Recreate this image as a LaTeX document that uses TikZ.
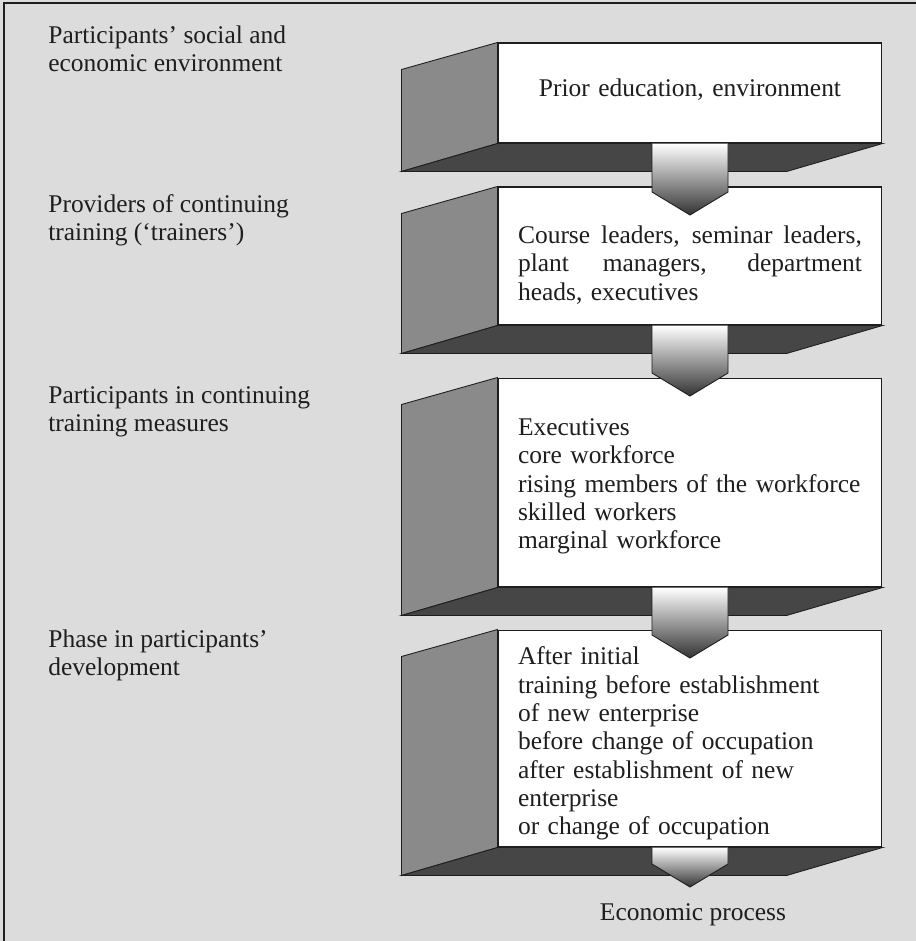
\documentclass[tikz,border=0pt]{standalone}
\usepackage{fontspec}
\setmainfont{Liberation Serif}
\usepackage{tikz}
\usetikzlibrary{calc, positioning}
\definecolor{PaperGray}{RGB}{220,220,220}
\definecolor{SideGray}{RGB}{138,138,138}
\definecolor{BandGray}{RGB}{70,70,70}
\definecolor{InkColor}{RGB}{30,30,30}
\newcommand{\bodyfont}{\fontsize{14.5}{15.9}\selectfont}
\newcommand{\boxfont}{\fontsize{14.5}{16.1}\selectfont}
\newcommand{\fullline}[1]{\leavevmode\hbox to 6.88cm{\spaceskip=0.25em plus 1fil #1}}
\tikzstyle{face} = [draw=InkColor, line width=0.6pt, fill=white, inner sep=0pt, minimum width=7.68cm]
\tikzstyle{facetext} = [inner sep=0pt, text width=6.88cm, font=\boxfont, text=InkColor]
\tikzstyle{sidepanel} = [draw=InkColor, line width=0.5pt, fill=SideGray]
\tikzstyle{bottompanel} = [draw=InkColor, line width=0.5pt, fill=BandGray]
\tikzstyle{blockarrow} = [draw=InkColor, line width=0.5pt, top color=white, bottom color=black!80]
\tikzstyle{sidetext} = [anchor=west, align=left, inner sep=0pt, font=\bodyfont, text=InkColor]

\begin{document}
\begin{tikzpicture}[x=0.02cm, y=-0.02cm]
\useasboundingbox (0,0) rectangle (916,941);
\fill[PaperGray] (0,0) rectangle (916,941);
\draw[InkColor, line width=0.8pt] (916,3) -- (4,3) -- (4,941);

\node[sidetext] (l1) at (48,48.5) {Participants’ social and\\economic environment};
\node[sidetext] (l2) at (48,220.5) {Providers of continuing\\training (‘trainers’)};
\node[sidetext] (l3) at (48,411.5) {Participants in continuing\\training measures};
\node[sidetext] (l4) at (48,655.5) {Phase in participants’\\development};

\node[face, minimum height=2cm] (f1) at (690,93) {};
\node[face, minimum height=2.76cm] (f2) at (690,256) {};
\node[face, minimum height=4.18cm] (f3) at (690,482.5) {};
\node[face, minimum height=4.34cm] (f4) at (690,738.5) {};

\node[facetext, align=center] (t1) at ($(f1.center)+(0,-3)$) {Prior education, environment};
\node[facetext, align=left] (t2) at ($(f2.center)+(0,9)$) {\fullline{Course leaders, seminar leaders,}\\\fullline{plant managers, department}\\heads, executives};
\node[facetext, align=left] (t3) at ($(f3.center)+(0,4)$) {Executives\\core workforce\\rising members of the workforce\\skilled workers\\marginal workforce};
\node[facetext, align=left] (t4) at ($(f4.center)+(0,5)$) {After initial\\training before establishment\\of new enterprise\\before change of occupation\\after establishment of new\\enterprise\\or change of occupation};

\foreach \f in {f1,f2,f3,f4} {
  \draw[sidepanel] ($(\f.north west)+(-96,27)$) -- (\f.north west) -- (\f.south west) -- ($(\f.south west)+(-96,28)$) -- cycle;
  \draw[bottompanel] ($(\f.south west)+(-96,28)$) -- (\f.south west) -- (\f.south east) -- ($(\f.south east)+(-96,28)$) -- cycle;
}

\coordinate (h2) at (690,192);
\coordinate (h3) at (690,373);
\coordinate (h4) at (690,635);
\coordinate (h5) at (690,864);
\foreach \a/\b in {f1/h2, f2/h3, f3/h4, f4/h5}
  \shade[blockarrow] ($(\a.south)+(-38,0)$) -- ($(\b)+(-38,0)$) -- ($(\b)+(0,23)$) -- ($(\b)+(38,0)$) -- ($(\a.south)+(38,0)$);

\node[font=\bodyfont, text=InkColor] (econ) at (693,915) {Economic process};
\end{tikzpicture}
\end{document}
